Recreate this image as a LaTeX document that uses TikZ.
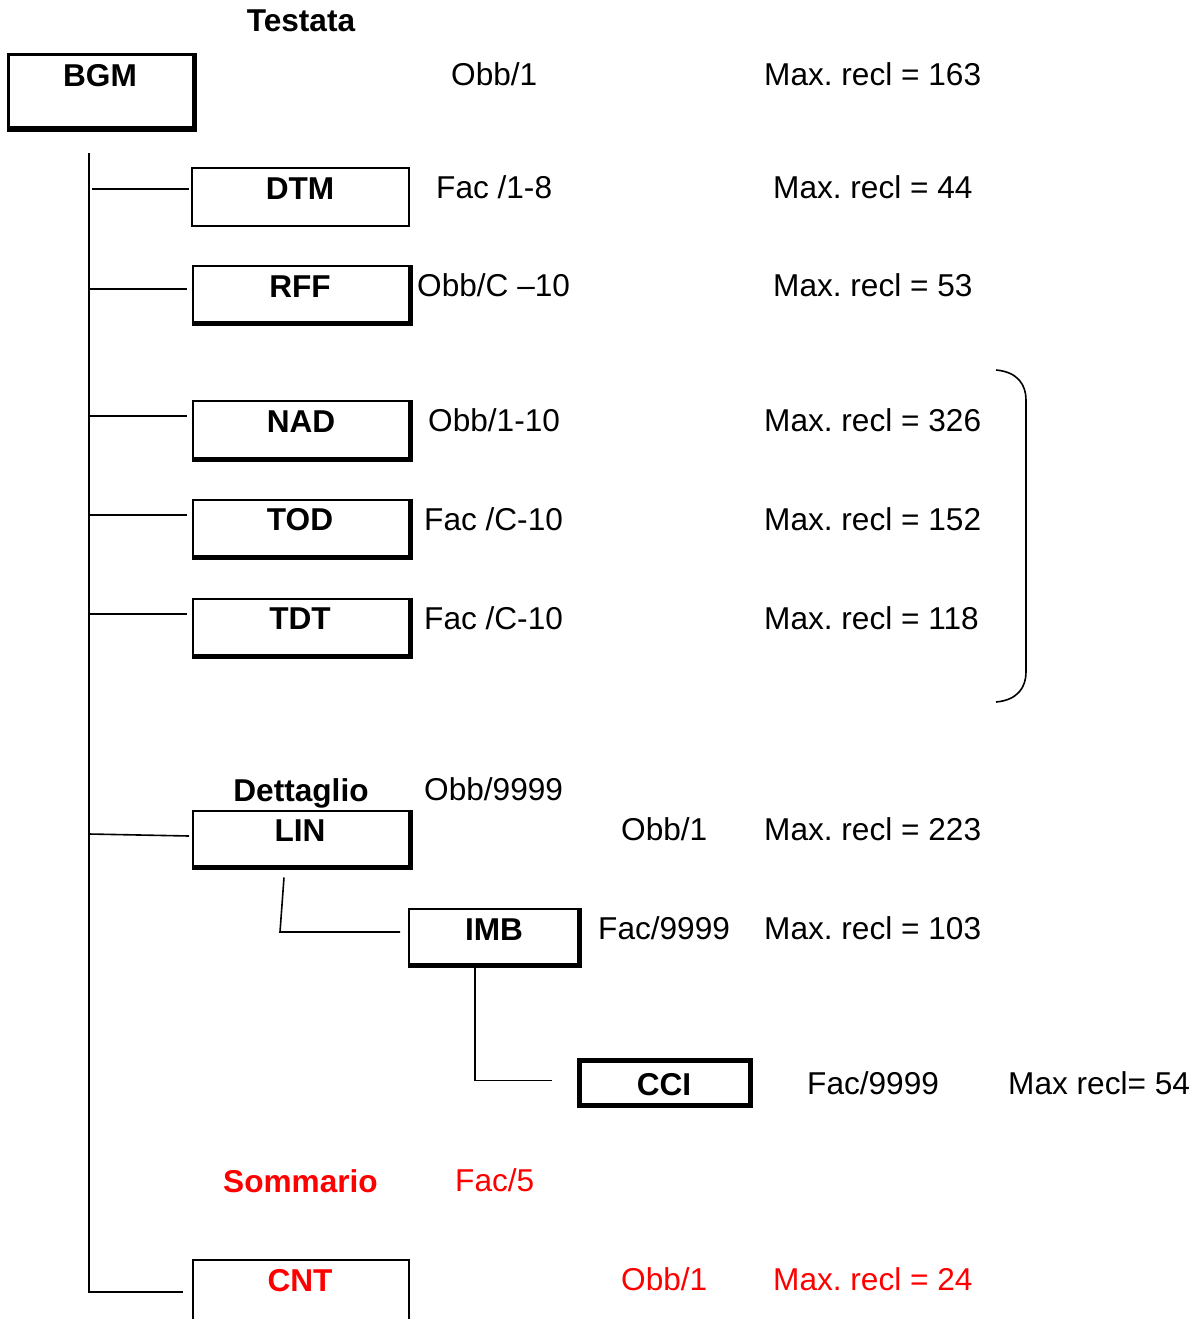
\documentclass[tikz,border=0pt]{standalone}
\usepackage{fontspec}
\setmainfont{Liberation Sans}
\usetikzlibrary{calc}
\definecolor{redtxt}{RGB}{255,0,0}
\frenchspacing
\begin{document}
\begin{tikzpicture}[x=1pt,y=-1pt,
  txt/.style={anchor=base west,inner sep=0pt,font=\fontsize{31.6}{38}\selectfont},
  btxt/.style={anchor=base,inner sep=0pt,font=\fontsize{31.6}{38}\selectfont\bfseries},
  recbox/.style={draw,line width=2pt,inner sep=0pt},
  shadowline/.style={line width=5pt},
  conn/.style={line width=1.6pt},
  red/.style={text=redtxt}
]
\useasboundingbox (0,0) rectangle (1197,1319);

% boxes
\node[recbox,line width=3pt,minimum width=185pt,minimum height=73pt] (bgm) at (100.5,91.5) {};
\node[recbox,minimum width=217pt,minimum height=58pt] (dtm) at (300.5,197) {};
\node[recbox,minimum width=216pt,minimum height=57pt] (rff) at (301,294) {};
\node[recbox,minimum width=216pt,minimum height=58pt] (nad) at (301,429.5) {};
\node[recbox,minimum width=216pt,minimum height=57pt] (tod) at (301,528) {};
\node[recbox,minimum width=216pt,minimum height=57pt] (tdt) at (301,627) {};
\node[recbox,minimum width=216pt,minimum height=56pt] (lin) at (301,838.5) {};
\node[recbox,minimum width=169pt,minimum height=56pt] (imb) at (493.5,936.5) {};
\node[recbox,line width=5pt,minimum width=171pt,minimum height=45pt] (cci) at (664.5,1082.5) {};
\node[recbox,minimum width=216pt,minimum height=62pt] (cnt) at (301,1291) {};

% thick shadow edges
\foreach \b in {bgm,rff,nad,tod,tdt,lin,imb}{
  \draw[shadowline] (\b.south west) -- (\b.south east) -- (\b.north east);
}

% box labels
\node[btxt] (bgmL) at (100,87) {BGM};
\node[btxt] (dtmL) at (300,199) {DTM};
\node[btxt] (rffL) at (300,297) {RFF};
\node[btxt] (nadL) at (301,432) {NAD};
\node[btxt] (todL) at (300,530) {TOD};
\node[btxt] (tdtL) at (300,629) {TDT};
\node[btxt] (linL) at (300,841) {LIN};
\node[btxt] (imbL) at (494,940) {IMB};
\node[btxt] (cciL) at (664,1095) {CCI};
\node[btxt,red] (cntL) at (300,1291) {CNT};

% section titles
\node[btxt] (testata) at (301,32) {Testata};
\node[btxt] (dettaglio) at (301,801) {Dettaglio};
\node[btxt,red] (sommario) at (300.5,1192) {Sommario};

% texts
\node[txt] (t1) at (451,86) {Obb/1};
\node[txt] (m1) at (764,86) {Max. recl = 163};
\node[txt] (t2) at (436,198) {Fac /1-8};
\node[txt] (m2) at (773,198) {Max. recl = 44};
\node[txt] (t3) at (417,296) {Obb/C –10};
\node[txt] (m3) at (773,296) {Max. recl = 53};
\node[txt] (t4) at (428,431) {Obb/1-10};
\node[txt] (m4) at (764,431) {Max. recl = 326};
\node[txt] (t5) at (424,530) {Fac /C-10};
\node[txt] (m5) at (764,530) {Max. recl = 152};
\node[txt] (t6) at (424,629) {Fac /C-10};
\node[txt] (m6) at (764,629) {Max. recl = 118};
\node[txt] (t7) at (424,800) {Obb/9999};
\node[txt] (t8) at (621,840) {Obb/1};
\node[txt] (m8) at (764,840) {Max. recl = 223};
\node[txt] (t9) at (598,939) {Fac/9999};
\node[txt] (m9) at (764,939) {Max. recl = 103};
\node[txt] (t10) at (807,1094) {Fac/9999};
\node[txt] (m10) at (1008,1094) {Max recl= 54};
\node[txt,red] (t11) at (455,1191) {Fac/5};
\node[txt,red] (t12) at (621,1290) {Obb/1};
\node[txt,red] (m12) at (773,1290) {Max. recl = 24};

% trunk
\coordinate (ttop) at (89,153);
\draw[conn] (ttop) |- ($(cnt.west)+(-9,1)$);
% branches
\draw[conn] ($(dtm.west -| ttop)+(3,-8)$) -- ($(dtm.west)+(-2,-8)$);
\draw[conn] ($(rff.west -| ttop)+(1,-5)$) -- ($(rff.west)+(-5,-5)$);
\draw[conn] ($(nad.west -| ttop)+(1,-13.5)$) -- ($(nad.west)+(-5,-13.5)$);
\draw[conn] ($(tod.west -| ttop)+(1,-13)$) -- ($(tod.west)+(-5,-13)$);
\draw[conn] ($(tdt.west -| ttop)+(1,-13)$) -- ($(tdt.west)+(-5,-13)$);
\draw[conn] ($(lin.west -| ttop)+(0,-4.5)$) -- ($(lin.west)+(-3,-2.5)$);
% LIN -> IMB
\draw[conn] ($(lin.south)+(-17,10)$) -- (280,932) -- ($(imb.west)+(-8,-4.5)$);
% IMB -> CCI
\draw[conn] ($(imb.south)+(-18.5,2)$) |- ($(cci.west)+(-25,-2)$);

% brace
\coordinate (brA) at (996,370);
\coordinate (brB) at (1026,400);
\coordinate (brC) at (1026,672);
\coordinate (brD) at (996,702);
\draw[conn] (brA) .. controls (1018,372) and (1026,385) .. (brB) -- (brC) .. controls (1026,687) and (1018,700) .. (brD);
\end{tikzpicture}
\end{document}
